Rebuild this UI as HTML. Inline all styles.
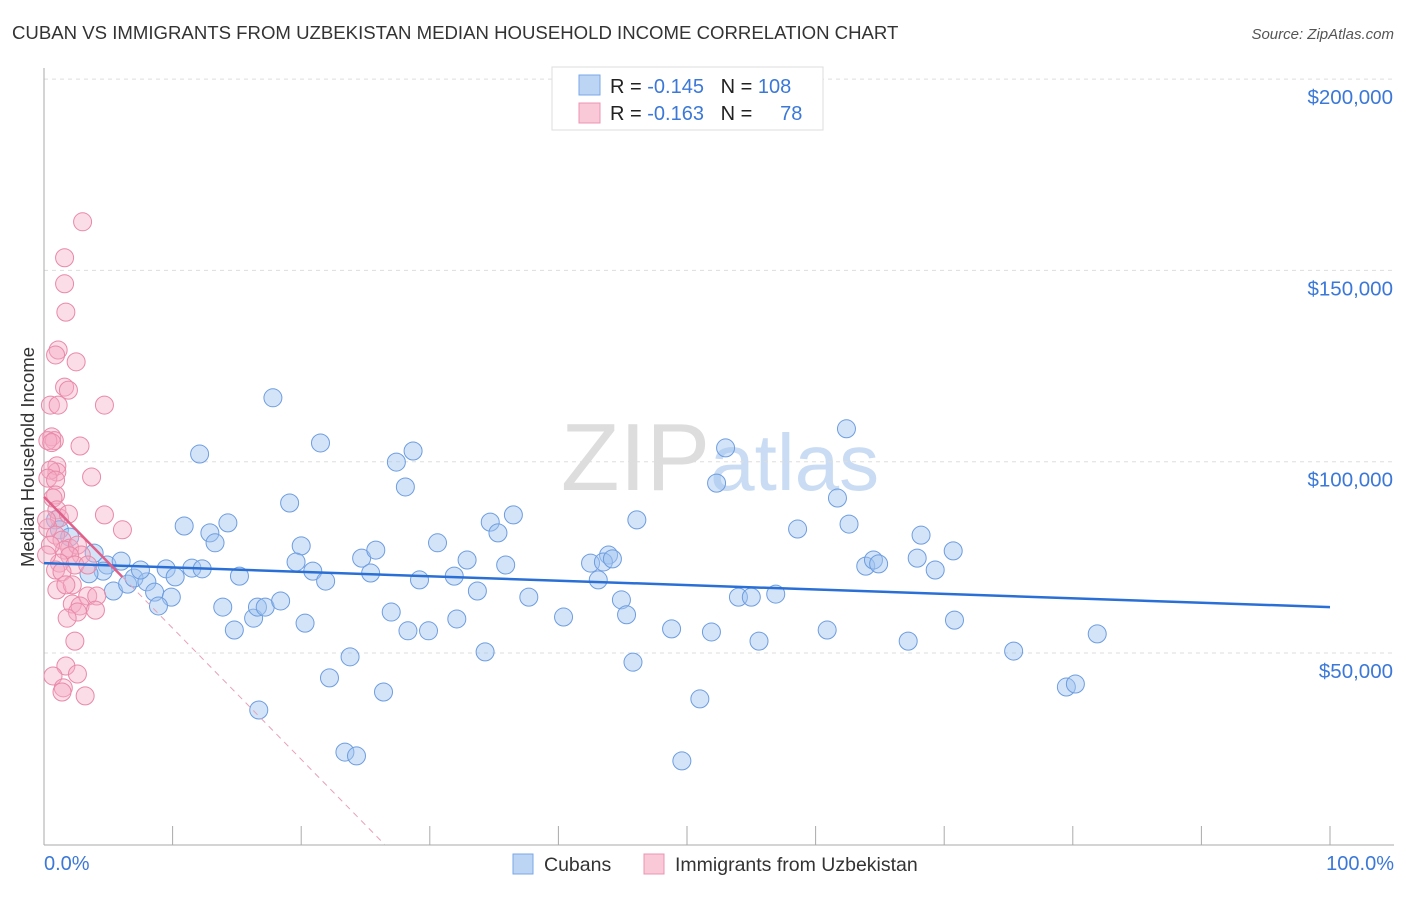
<!DOCTYPE html>
<html><head><meta charset="utf-8"><style>
body{margin:0;background:#fff;font-family:"Liberation Sans",sans-serif}
svg text{font-family:"Liberation Sans",sans-serif;white-space:pre}
</style></head><body>
<svg id="c" width="1406" height="892" xmlns="http://www.w3.org/2000/svg" xml:space="preserve">
<text x="12" y="39" font-size="18.6" fill="#333">CUBAN VS IMMIGRANTS FROM UZBEKISTAN MEDIAN HOUSEHOLD INCOME CORRELATION CHART</text>
<text x="1394" y="39" font-size="15" fill="#555" font-style="italic" text-anchor="end">Source: ZipAtlas.com</text>
<text x="720" y="490" font-size="96" fill="#ddd" text-anchor="middle" font-family="Liberation Serif">ZIP<tspan fill="#c9dcf3" font-family="Liberation Sans" font-size="80">atlas</tspan></text>
<text transform="translate(34,457) rotate(-90)" font-size="18.5" fill="#333" text-anchor="middle">Median Household Income</text>
<g id="grid"></g><g id="pts"></g><g id="lines"></g>
<text x="44" y="870" font-size="20" fill="#3b78d8">0.0%</text>
<text x="1394" y="870" font-size="20" fill="#3b78d8" text-anchor="end">100.0%</text>
<g>
<rect x="513" y="854" width="20" height="20" fill="#bcd5f5" stroke="#7aa7e6"/>
<text x="544" y="871" font-size="19.5" fill="#333">Cubans</text>
<rect x="644" y="854" width="20" height="20" fill="#f9c9d7" stroke="#ec94b0"/>
<text x="675" y="871" font-size="19.5" fill="#333">Immigrants from Uzbekistan</text>
</g>
<g>
<rect x="552" y="67" width="271" height="63" fill="#fff" stroke="#ddd"/>
<rect x="579" y="75" width="21" height="20" fill="#bcd5f5" stroke="#7aa7e6"/>
<rect x="579" y="103" width="21" height="20" fill="#f9c9d7" stroke="#ec94b0"/>
<text x="610" y="93" font-size="20" fill="#222">R = <tspan fill="#3b78d8">-0.145</tspan>   N = <tspan fill="#3b78d8">108</tspan></text>
<text x="610" y="120" font-size="20" fill="#222">R = <tspan fill="#3b78d8">-0.163</tspan>   N =   <tspan fill="#3b78d8">  78</tspan></text>
</g>
</svg>
<script>
const yTicks=[50000,100000,150000,200000];
const yTickLabels=["$50,000","$100,000","$150,000","$200,000"];
const blueX=[17.8,12.1,21.5,27.4,28.7,28.1,19.1,53.0,62.4,52.3,61.7,10.9,14.3,12.9,13.3,20.0,19.6,20.9,21.9,24.7,25.8,25.4,30.6,32.9,31.9,29.2,34.7,35.3,36.5,35.9,33.7,37.7,27.0,32.1,28.3,29.9,34.3,23.8,22.2,26.4,16.7,23.4,24.3,40.4,42.5,43.9,43.5,44.2,43.1,44.9,45.3,46.1,45.8,48.8,51.0,49.6,51.9,54.0,55.0,56.9,55.6,58.6,60.9,62.6,63.9,64.5,64.9,67.2,67.9,68.2,69.3,70.7,70.8,75.4,79.5,80.2,81.9,0.9,1.2,2.0,3.9,4.9,6.0,4.6,3.5,5.4,6.5,7.0,8.0,7.5,9.5,10.2,11.5,12.3,8.6,9.9,8.9,15.2,13.9,14.8,16.3,16.6,17.2,18.4,20.3];
const blueY=[116.7,102.0,104.9,99.9,102.8,93.4,89.2,103.6,108.6,94.4,90.5,83.2,84.0,81.4,78.8,78.0,73.8,71.4,68.8,74.8,76.9,70.9,78.8,74.3,70.1,69.1,84.2,81.4,86.1,73.0,66.2,64.6,60.7,58.9,55.8,55.8,50.3,49.0,43.5,39.8,35.1,24.1,23.1,59.4,73.5,75.6,73.8,74.6,69.1,63.9,60.0,84.8,47.6,56.3,38.0,21.8,55.5,64.6,64.6,65.4,53.1,82.4,56.0,83.7,72.7,74.3,73.3,53.1,74.8,80.8,71.7,76.7,58.6,50.5,41.1,41.9,55.0,84.8,82.2,80.3,76.1,73.0,74.0,71.4,70.7,66.2,68.0,69.6,68.6,71.7,72.0,69.9,72.2,72.0,65.9,64.6,62.3,70.1,62.0,56.0,59.1,62.0,62.0,63.6,57.8];
const pinkX=[3.0,1.6,1.6,1.7,1.1,0.9,2.5,1.6,1.9,0.5,1.1,4.7,0.6,0.8,0.3,2.8,1.0,1.0,0.5,0.3,0.9,3.7,0.9,0.7,1.0,1.2,1.9,4.7,6.1,0.3,0.9,1.4,2.0,1.6,2.6,2.9,2.0,1.2,2.4,0.9,1.4,1.0,2.2,3.4,4.1,2.2,2.8,2.6,1.8,4.0,2.4,1.7,0.7,2.6,1.5,1.4,3.2,0.6,0.2,0.5,0.2,1.7,3.4];
const pinkY=[162.7,153.3,146.5,139.1,129.2,127.9,126.1,119.5,118.7,114.8,114.8,114.8,106.5,105.5,105.5,104.1,98.9,97.3,97.8,95.7,95.2,96.0,91.3,90.5,87.4,85.3,86.3,86.1,82.2,82.7,80.8,79.5,77.4,76.9,78.2,75.6,75.4,73.5,73.0,71.7,71.2,66.5,67.8,64.9,64.9,62.8,62.3,60.7,59.1,61.2,53.1,46.6,44.0,44.5,40.9,39.8,38.8,105.0,84.8,78.2,75.6,67.8,73.0];
const blueTrend=[73.5,62.0];
const pinkTrend=[90.8,-3.43];
const NS="http://www.w3.org/2000/svg";
const X=p=>44+p*12.86;
const Y=v=>653-(v-50000)*191.3/50000;
const Yk=k=>Y(k*1000);
function mk(tag,attrs,parent){const e=document.createElementNS(NS,tag);for(const k in attrs)e.setAttribute(k,attrs[k]);parent.appendChild(e);return e;}
const grid=document.getElementById('grid');
yTicks.forEach((t,i)=>{
 const l=mk('line',{x1:44,x2:1394,y1:Y(t),y2:Y(t),stroke:'#ddd','stroke-dasharray':'4,4'},grid);
 
 
 const tx=mk('text',{x:1393,y:Y(t)+25,'font-size':20.5,fill:'#3b78d8','text-anchor':'end'},grid);
 tx.textContent=yTickLabels[i];
 
 
});
const ax=mk('line',{x1:44,x2:44,y1:68,y2:845,stroke:'#aaa'},grid);


const bx=mk('line',{x1:44,x2:1394,y1:845,y2:845,stroke:'#aaa'},grid);


for(let i=1;i<=10;i++){const t=mk('line',{x1:X(i*10),x2:X(i*10),y1:826,y2:845,stroke:'#aaa'},grid);
 
 }
const pts=document.getElementById('pts');
blueX.forEach((x,i)=>{const c=mk('circle',{cx:X(x),cy:Yk(blueY[i]),r:9,fill:'rgba(160,196,240,0.45)',stroke:'#6d9de0','stroke-width':1},pts);
 
 });
pinkX.forEach((x,i)=>{const c=mk('circle',{cx:X(x),cy:Yk(pinkY[i]),r:9,fill:'rgba(245,170,195,0.4)',stroke:'#e889a8','stroke-width':1},pts);
 
 });
const lines=document.getElementById('lines');
const bl=mk('line',{x1:X(0),y1:Yk(blueTrend[0]),x2:X(100),y2:Yk(blueTrend[1]),stroke:'#2a6fd6','stroke-width':2.5},lines);


const pEnd=-pinkTrend[0]/pinkTrend[1];
const pd=mk('line',{x1:X(6.1),y1:Yk(pinkTrend[0]+pinkTrend[1]*6.1),x2:X(pEnd),y2:Yk(0),stroke:'#e8a0b5','stroke-width':1,'stroke-dasharray':'6,5'},lines);


const ps=mk('line',{x1:X(0),y1:Yk(pinkTrend[0]),x2:X(6.1),y2:Yk(pinkTrend[0]+pinkTrend[1]*6.1),stroke:'#e0608a','stroke-width':2.5},lines);


</script>
</body></html>
